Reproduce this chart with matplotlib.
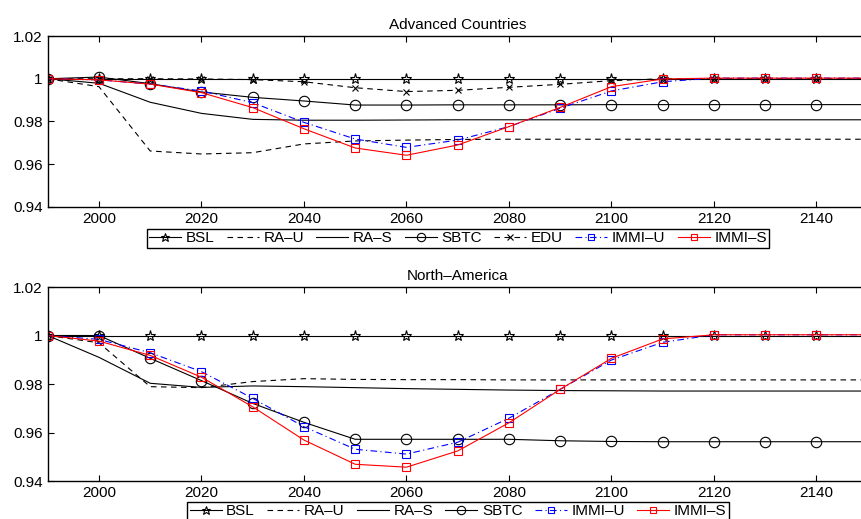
import matplotlib
matplotlib.use("Agg")
import matplotlib.pyplot as plt

plt.rcParams['font.family'] = ['Liberation Sans', 'DejaVu Sans']

years = [1990, 2000, 2010, 2020, 2030, 2040, 2050, 2060, 2070, 2080,
         2090, 2100, 2110, 2120, 2130, 2140, 2150]

# Advanced Countries
adv_bsl = [1.0, 1.0, 1.0, 1.0, 1.0, 1.0, 1.0, 1.0, 1.0, 1.0, 1.0, 1.0, 1.0, 1.0, 1.0, 1.0, 1.0]
adv_rau = [1.0, 0.9963, 0.9662, 0.9648, 0.9654, 0.9695, 0.9709, 0.9713, 0.9716, 0.9717,
           0.9717, 0.9717, 0.9717, 0.9717, 0.9717, 0.9717, 0.9717]
adv_ras = [1.0, 0.9979, 0.9890, 0.9838, 0.9810, 0.9806, 0.9806, 0.9807, 0.9808, 0.9808,
           0.9808, 0.9808, 0.9808, 0.9808, 0.9808, 0.9808, 0.9808]
adv_sbtc = [1.0, 1.0008, 0.9977, 0.9938, 0.9913, 0.9896, 0.9877, 0.9877, 0.9878, 0.9878,
            0.9878, 0.9879, 0.9879, 0.9879, 0.9879, 0.9879, 0.9879]
adv_edu = [1.0, 1.0, 1.0, 0.9999, 0.9996, 0.9986, 0.9958, 0.9940, 0.9946, 0.9960,
           0.9974, 0.9991, 1.0, 1.0, 1.0, 1.0, 1.0]
adv_immu = [1.0, 0.9995, 0.9975, 0.9943, 0.9888, 0.9796, 0.9718, 0.9679, 0.9713, 0.9776,
            0.9862, 0.9943, 0.9986, 1.0003, 1.0003, 1.0003, 1.0003]
adv_imms = [1.0, 0.9995, 0.9975, 0.9935, 0.9865, 0.9766, 0.9676, 0.9642, 0.9690, 0.9776,
            0.9866, 0.9963, 0.9999, 1.0003, 1.0003, 1.0003, 1.0003]

# North-America
na_bsl = [1.0, 1.0, 1.0, 1.0, 1.0, 1.0, 1.0, 1.0, 1.0, 1.0, 1.0, 1.0, 1.0, 1.0, 1.0, 1.0, 1.0]
na_rau = [1.0, 0.9970, 0.9789, 0.9785, 0.9810, 0.9822, 0.9819, 0.9818, 0.9818, 0.9817,
          0.9817, 0.9817, 0.9817, 0.9817, 0.9817, 0.9817, 0.9817]
na_ras = [1.0, 0.9910, 0.9803, 0.9786, 0.9792, 0.9789, 0.9785, 0.9781, 0.9778, 0.9775,
          0.9773, 0.9772, 0.9771, 0.9771, 0.9771, 0.9771, 0.9771]
na_sbtc = [1.0, 1.0, 0.9906, 0.9814, 0.9720, 0.9642, 0.9572, 0.9572, 0.9572, 0.9572,
           0.9566, 0.9563, 0.9562, 0.9562, 0.9562, 0.9562, 0.9562]
na_immu = [1.0, 0.9984, 0.9929, 0.9851, 0.9741, 0.9624, 0.9531, 0.9511, 0.9560, 0.9659,
           0.9778, 0.9899, 0.9972, 1.0003, 1.0003, 1.0003, 1.0003]
na_imms = [1.0, 0.9977, 0.9918, 0.9828, 0.9706, 0.9569, 0.9469, 0.9457, 0.9524, 0.9640,
           0.9778, 0.9906, 0.9986, 1.0003, 1.0003, 1.0003, 1.0003]

xticks = [2000, 2020, 2040, 2060, 2080, 2100, 2120, 2140]
yticks = [0.94, 0.96, 0.98, 1.0, 1.02]
ytick_labels = ['0.94', '0.96', '0.98', '1', '1.02']

LW = 0.8
styles = {
    'BSL':    dict(color='k', ls='-', marker='*', ms=8, mfc='none', mew=0.8),
    'RA\u2013U':   dict(color='k', ls=(0, (5, 4)), marker=None),
    'RA\u2013S':   dict(color='k', ls='-', marker=None),
    'SBTC':   dict(color='k', ls='-', marker='o', ms=7.5, mfc='none', mew=0.8),
    'EDU':    dict(color='k', ls=(0, (5, 4)), marker='x', ms=5, mew=0.8),
    'IMMI\u2013U': dict(color='#0000ff', ls=(0, (6, 3, 1, 3)), marker='s', ms=6, mfc='none', mew=0.8),
    'IMMI\u2013S': dict(color='#ff0000', ls='-', marker='s', ms=6, mfc='none', mew=0.8),
}


def draw_panel(ax, title, series, legend_y):
    for name, vals in series:
        ax.plot(years, vals, lw=LW, label=name, **styles[name])
    ax.set_xlim(1990, 2150)
    ax.set_ylim(0.94, 1.02)
    ax.set_xticks(xticks)
    ax.set_yticks(yticks)
    ax.set_yticklabels(ytick_labels)
    ax.tick_params(direction='in', top=True, right=True, length=4, labelsize=11, width=0.8)
    for s in ax.spines.values():
        s.set_linewidth(1.0)
    ax.set_title(title, fontsize=11, pad=5)
    leg = fig.legend(*ax.get_legend_handles_labels(), loc='upper center',
                     bbox_to_anchor=(0.532, legend_y), ncol=len(series), fontsize=11,
                     frameon=True, fancybox=False, edgecolor='k', framealpha=1,
                     handlelength=2.1, handletextpad=0.3, columnspacing=0.8,
                     borderpad=0.15, borderaxespad=0, markerscale=0.8)
    leg.get_frame().set_linewidth(1.0)


fig = plt.figure(figsize=(8.61, 5.19), dpi=100)
ax1 = fig.add_axes([0.0554, 0.6012, 0.9524, 0.3294])
ax2 = fig.add_axes([0.0554, 0.0732, 0.9524, 0.3738])

draw_panel(ax1, 'Advanced Countries',
           [('BSL', adv_bsl), ('RA\u2013U', adv_rau), ('RA\u2013S', adv_ras),
            ('SBTC', adv_sbtc), ('EDU', adv_edu), ('IMMI\u2013U', adv_immu),
            ('IMMI\u2013S', adv_imms)], 0.5588)
draw_panel(ax2, 'North\u2013America',
           [('BSL', na_bsl), ('RA\u2013U', na_rau), ('RA\u2013S', na_ras),
            ('SBTC', na_sbtc), ('IMMI\u2013U', na_immu), ('IMMI\u2013S', na_imms)], 0.0325)

fig.savefig('out.png', dpi=100)
